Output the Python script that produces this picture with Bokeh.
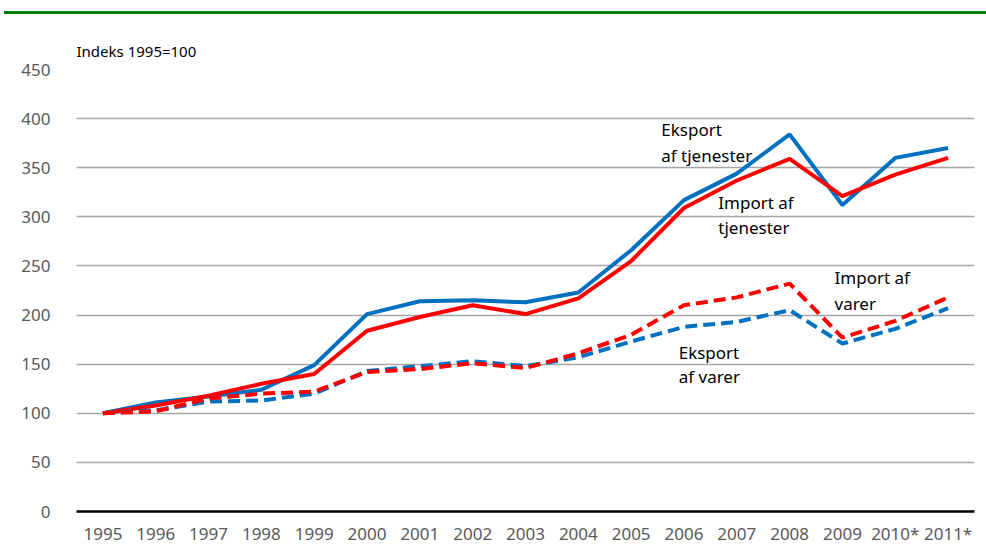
from bokeh.plotting import figure
from bokeh.models import Label, Range1d, FixedTicker, Div, Title
from bokeh.layouts import column
from bokeh.embed import file_html
from bokeh.resources import INLINE

years = ["1995", "1996", "1997", "1998", "1999", "2000", "2001", "2002", "2003",
         "2004", "2005", "2006", "2007", "2008", "2009", "2010*", "2011*"]
eksport_tjenester = [100, 111, 117, 124, 149, 201, 214, 215, 213, 223, 266, 317, 344, 384, 312, 360, 370]
import_tjenester = [100, 108, 118, 130, 140, 184, 198, 210, 201, 217, 255, 309, 337, 359, 321, 343, 360]
eksport_varer = [100, 103, 112, 113, 120, 143, 148, 153, 148, 157, 173, 188, 193, 205, 171, 186, 207]
import_varer = [100, 102, 115, 120, 122, 142, 145, 151, 146, 161, 180, 210, 218, 232, 177, 194, 218]
y_ticks = [0, 50, 100, 150, 200, 250, 300, 350, 400, 450]

BLUE = "#0070C0"
RED = "#FF0000"
GREEN = "#008000"
FONT = "Noto Sans"

# thin green rule across the top
bar = Div(text="", width=982, height=3, margin=(11, 0, 0, 4),
          styles={"background-color": GREEN})

p = figure(x_range=years, y_range=Range1d(0, 450), width=978, height=533,
           output_backend="svg", toolbar_location=None,
           min_border_left=76, min_border_right=4, min_border_top=55, min_border_bottom=30)
p.outline_line_color = None
p.background_fill_color = "white"

p.title.text = "Indeks 1995=100"
p.title.align = "left"
p.title.text_font = FONT
p.title.text_font_size = "15px"
p.title.text_font_style = "normal"
p.title.text_color = "black"
# small spacer between the caption and the plot frame
p.add_layout(Title(text=" ", text_font_size="2px", standoff=0), "above")

p.xgrid.grid_line_color = None
p.ygrid.grid_line_color = "#A6A6A6"
p.ygrid.grid_line_width = 1.5
p.yaxis.ticker = FixedTicker(ticks=y_ticks)

for ax in (p.xaxis, p.yaxis):
    ax.major_tick_line_color = None
    ax.minor_tick_line_color = None
    ax.major_label_text_font = FONT
    ax.major_label_text_font_size = "17px"
    ax.major_label_text_color = "#595959"
p.yaxis.axis_line_color = None
p.yaxis.major_label_standoff = 20
p.xaxis.axis_line_color = "black"
p.xaxis.axis_line_width = 2.5
p.xaxis.major_label_standoff = 4

p.line(years, eksport_tjenester, line_color=BLUE, line_width=4)
p.line(years, import_tjenester, line_color=RED, line_width=4)
p.line(years, eksport_varer, line_color=BLUE, line_width=4, line_dash="12 6")
p.line(years, import_varer, line_color=RED, line_width=4, line_dash="12 6")

labels = [
    ("Eksport", 11.07, 389.0), ("af tjenester", 11.07, 362.5),
    ("Import af", 12.15, 314.5), ("tjenester", 12.15, 289.0),
    ("Import af", 14.35, 238.0), ("varer", 14.35, 212.0),
    ("Eksport", 11.40, 162.0), ("af varer", 11.40, 137.5),
]
for t, x, y in labels:
    p.add_layout(Label(x=x, y=y, text=t, text_font=FONT, text_font_size="17px",
                       text_color="black", text_baseline="alphabetic", text_align="left"))

layout = column(bar, p, spacing=0)
open("out.html", "w").write(file_html(layout, INLINE))
